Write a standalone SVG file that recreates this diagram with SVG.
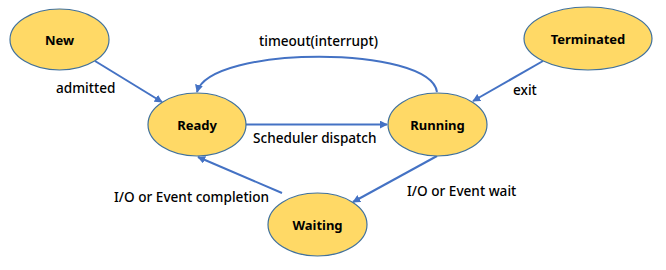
<svg xmlns="http://www.w3.org/2000/svg" width="666" height="270" viewBox="0 0 666 270">
<style>
.node ellipse{fill:#FFD966;stroke:#41719C;stroke-width:1.2}
.node text{font-family:"Noto Sans","Liberation Sans",sans-serif;font-size:13px;font-weight:bold;fill:#000;text-anchor:middle;dominant-baseline:central}
.edge{fill:none;stroke:#4472C4;stroke-width:2;marker-end:url(#ah)}
.lbl{font-family:"Noto Sans","Liberation Sans",sans-serif;font-size:13.6px;font-weight:500;fill:#000}
</style>
<defs>
<marker id="ah" viewBox="0 0 10 10" refX="9" refY="5" markerWidth="4" markerHeight="4" orient="auto" markerUnits="strokeWidth">
<path d="M0,0 L10,5 L0,10 z" fill="#4472C4"/>
</marker>
</defs>
<rect width="666" height="270" fill="#fff"/>
<g id="connectors">
<path class="edge" d="M95,61 L162,102"/>
<path class="edge" d="M246,124.5 L387,124.5"/>
<path class="edge" d="M437,92 C430,45 210,45 197,92"/>
<path class="edge" d="M543,61 L473,101"/>
<path class="edge" d="M437,156 L353,202"/>
<path class="edge" d="M282,193 L198,157"/>
<text class="lbl" x="56" y="93">admitted</text>
<text class="lbl" x="259" y="46">timeout(interrupt)</text>
<text class="lbl" x="253" y="143">Scheduler dispatch</text>
<text class="lbl" x="513" y="95">exit</text>
<text class="lbl" x="114" y="202">I/O or Event completion</text>
<text class="lbl" x="407" y="196">I/O or Event wait</text>
</g>
<g id="new" class="node"><ellipse cx="59.5" cy="39.5" rx="49.5" ry="30.5"/><text x="59.5" y="39.5">New</text></g>
<g id="ready" class="node"><ellipse cx="197" cy="124.5" rx="49" ry="31.5"/><text x="197" y="124.5">Ready</text></g>
<g id="running" class="node"><ellipse cx="437.5" cy="124.5" rx="49.5" ry="31.5"/><text x="437.5" y="124.5">Running</text></g>
<g id="terminated" class="node"><ellipse cx="588" cy="38.5" rx="64" ry="31.5"/><text x="588" y="38.5">Terminated</text></g>
<g id="waiting" class="node"><ellipse cx="317.5" cy="224.5" rx="49.5" ry="31.5"/><text x="317.5" y="224.5">Waiting</text></g>
</svg>
